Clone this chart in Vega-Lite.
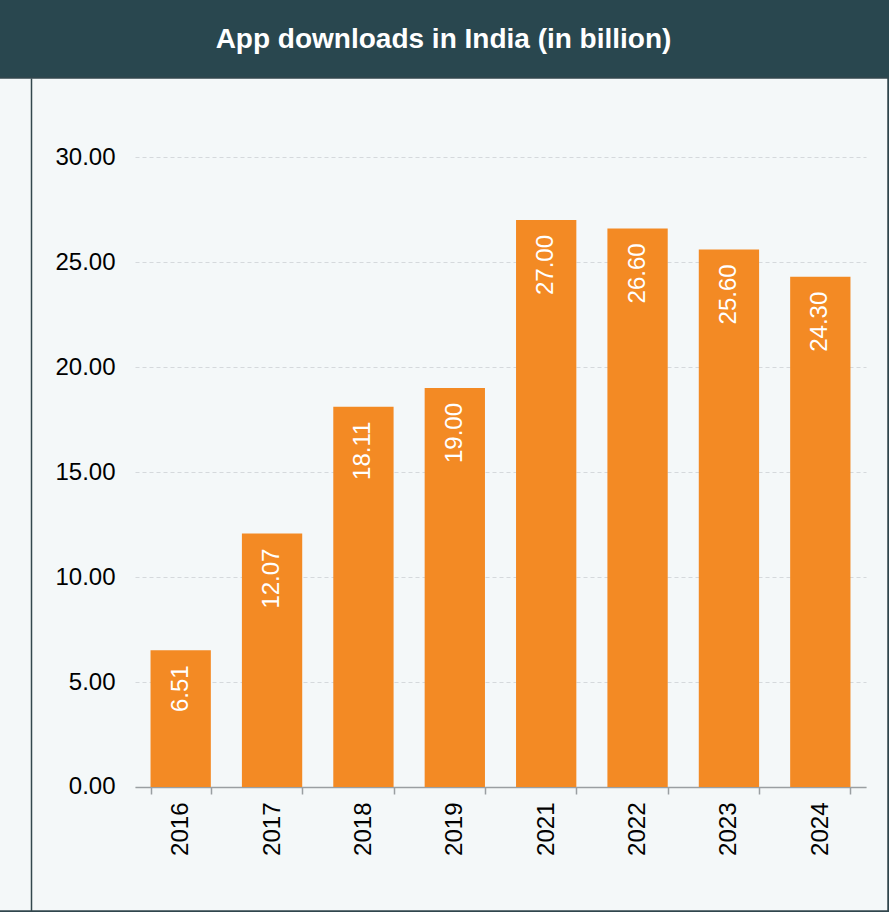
{
  "$schema": "https://vega.github.io/schema/vega-lite/v6.json",
  "autosize": "none",
  "padding": {"left": -1, "top": 78, "right": 1, "bottom": 1},
  "width": 889,
  "height": 833,
  "background": "#29474f",
  "title": {
    "text": "App downloads in India (in billion)",
    "color": "#ffffff",
    "font": "Liberation Sans",
    "fontSize": 28,
    "fontWeight": "bold",
    "anchor": "middle",
    "baseline": "alphabetic",
    "offset": 2
  },
  "data": {
    "values": [
      {"year": "2016", "downloads": 6.51},
      {"year": "2017", "downloads": 12.07},
      {"year": "2018", "downloads": 18.11},
      {"year": "2019", "downloads": 19.0},
      {"year": "2021", "downloads": 27.0},
      {"year": "2022", "downloads": 26.6},
      {"year": "2023", "downloads": 25.6},
      {"year": "2024", "downloads": 24.3}
    ]
  },
  "encoding": {
    "x": {
      "field": "year",
      "type": "nominal",
      "sort": null,
      "scale": {"range": [136, 867], "paddingInner": 0.34, "paddingOuter": 0.17},
      "axis": {
        "orient": "bottom",
        "offset": -124,
        "title": null,
        "grid": false,
        "labelAngle": 270,
        "labelAlign": "right",
        "labelBaseline": "middle",
        "labelFont": "Liberation Sans",
        "labelFontSize": 24,
        "labelColor": "#000000",
        "labelPadding": 8,
        "domainColor": "#9a9fa2",
        "domainWidth": 1.5,
        "tickColor": "#9a9fa2",
        "tickWidth": 1.5,
        "tickSize": 7,
        "tickBand": "extent"
      }
    },
    "y": {
      "field": "downloads",
      "type": "quantitative",
      "scale": {"domain": [-5.9048, 33.762], "nice": false, "zero": false},
      "axis": {
        "orient": "left",
        "offset": -32,
        "title": null,
        "values": [0, 5, 10, 15, 20, 25, 30],
        "format": ".2f",
        "ticks": false,
        "labelPadding": -84,
        "labelAlign": "right",
        "labelBaseline": "middle",
        "labelFont": "Liberation Sans",
        "labelFontSize": 24,
        "labelColor": "#000000",
        "domainColor": "#33474e",
        "domainWidth": 1.5,
        "grid": true,
        "gridColor": "#d5d9dc",
        "gridDash": [4, 3],
        "gridWidth": 1
      }
    }
  },
  "layer": [
    {
      "mark": {"type": "bar", "color": "#f38a24"},
      "encoding": {"y2": {"datum": 0}}
    },
    {
      "mark": {
        "type": "text",
        "angle": 270,
        "align": "right",
        "baseline": "middle",
        "dx": -15,
        "color": "#ffffff",
        "font": "Liberation Sans",
        "fontSize": 24
      },
      "encoding": {
        "text": {"field": "downloads", "type": "quantitative", "format": ".2f"}
      }
    }
  ],
  "config": {
    "view": {"fill": "#f4f8f9", "stroke": "#33474e", "strokeWidth": 1.5}
  }
}
